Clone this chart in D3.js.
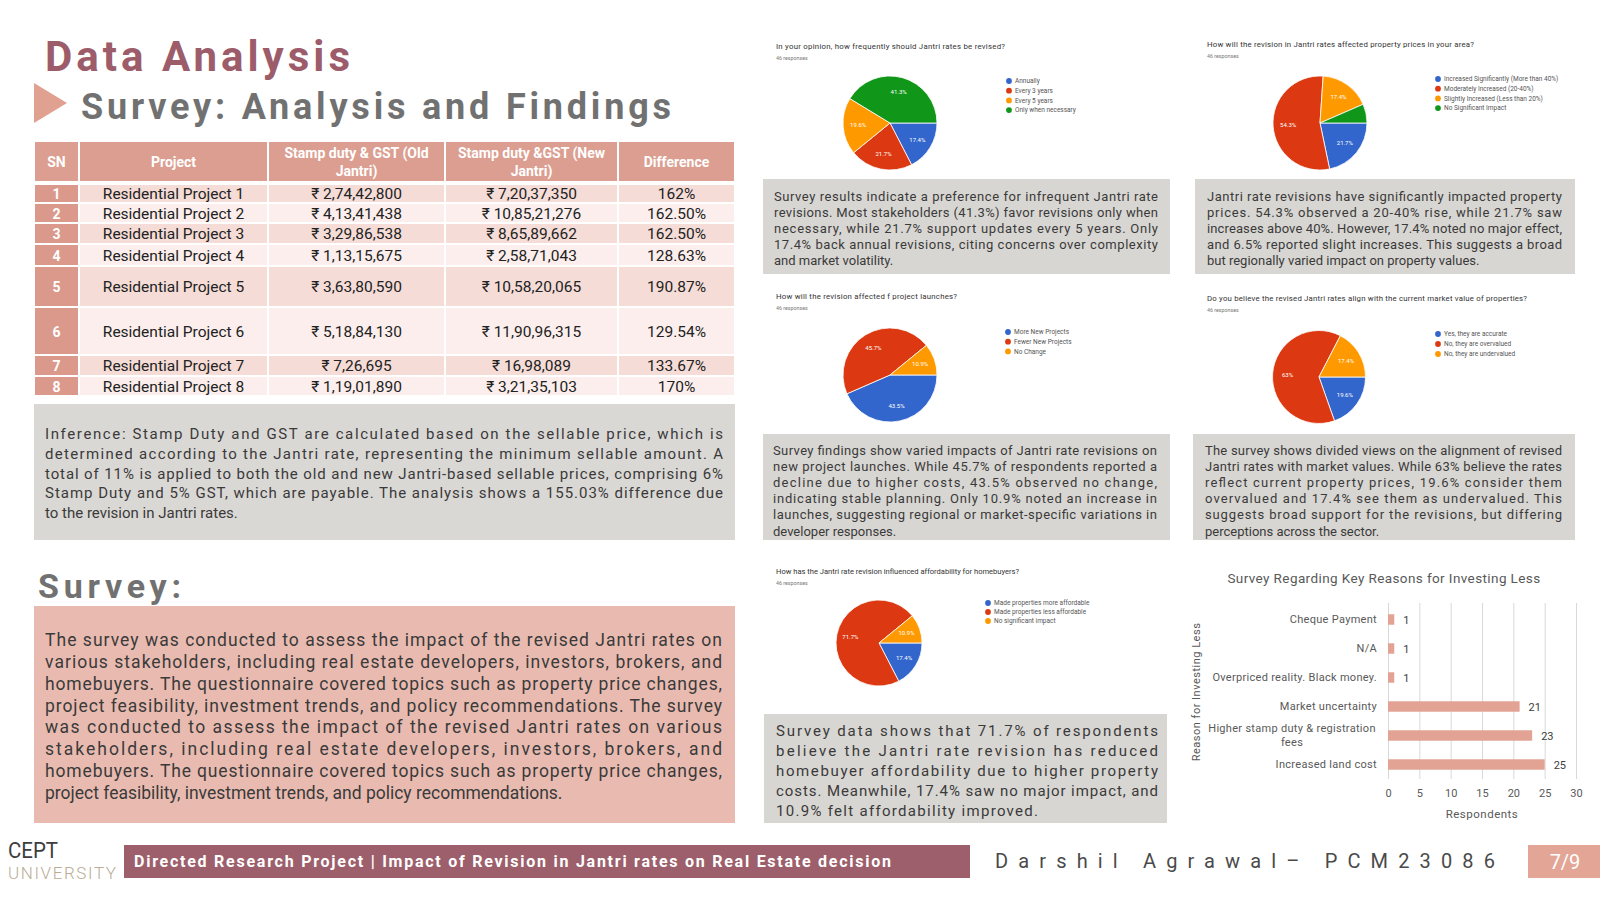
<!DOCTYPE html>
<html><head><meta charset="utf-8">
<script src="https://cdn.jsdelivr.net/npm/d3@7/dist/d3.min.js"></script>
<style>
html,body{margin:0;padding:0;background:#fff;}
svg{display:block;}
text{font-family:Roboto,"Noto Sans",sans-serif;}
</style></head><body>
<svg id="c" width="1600" height="900"></svg>
<script>
// ---------------- DATA ----------------
const tableHeaders = ["SN", "Project", "Stamp duty & GST (Old|Jantri)", "Stamp duty &GST (New|Jantri)", "Difference"];
const snNumbers = [1, 2, 3, 4, 5, 6, 7, 8];
const projects = ["Residential Project 1", "Residential Project 2", "Residential Project 3", "Residential Project 4",
  "Residential Project 5", "Residential Project 6", "Residential Project 7", "Residential Project 8"];
const oldJantri = ["₹ 2,74,42,800", "₹ 4,13,41,438", "₹ 3,29,86,538", "₹ 1,13,15,675", "₹ 3,63,80,590", "₹ 5,18,84,130", "₹ 7,26,695", "₹ 1,19,01,890"];
const newJantri = ["₹ 7,20,37,350", "₹ 10,85,21,276", "₹ 8,65,89,662", "₹ 2,58,71,043", "₹ 10,58,20,065", "₹ 11,90,96,315", "₹ 16,98,089", "₹ 3,21,35,103"];
const differences = ["162%", "162.50%", "162.50%", "128.63%", "190.87%", "129.54%", "133.67%", "170%"];

const inferenceLines = [
  "Inference: Stamp Duty and GST are calculated based on the sellable price, which is",
  "determined according to the Jantri rate, representing the minimum sellable amount. A",
  "total of 11% is applied to both the old and new Jantri-based sellable prices, comprising 6%",
  "Stamp Duty and 5% GST, which are payable. The analysis shows a 155.03% difference due",
  "to the revision in Jantri rates."];
const surveyLines = [
  "The survey was conducted to assess the impact of the revised Jantri rates on",
  "various stakeholders, including real estate developers, investors, brokers, and",
  "homebuyers. The questionnaire covered topics such as property price changes,",
  "project feasibility, investment trends, and policy recommendations. The survey",
  "was conducted to assess the impact of the revised Jantri rates on various",
  "stakeholders, including real estate developers, investors, brokers, and",
  "homebuyers. The questionnaire covered topics such as property price changes,",
  "project feasibility, investment trends, and policy recommendations."];

const freqTitle = "In your opinion, how frequently should Jantri rates be revised?";
const freqLabels = ["Annually", "Every 3 years", "Every 5 years", "Only when necessary"];
const freqValues = [17.4, 21.7, 19.6, 41.3];
const freqText = [
  "Survey results indicate a preference for infrequent Jantri rate",
  "revisions. Most stakeholders (41.3%) favor revisions only when",
  "necessary, while 21.7% support updates every 5 years. Only",
  "17.4% back annual revisions, citing concerns over complexity",
  "and market volatility."];

const priceTitle = "How will the revision in Jantri rates affected property prices in your area?";
const priceLabels = ["Increased Significantly (More than 40%)", "Moderately Increased (20-40%)", "Slightly Increased (Less than 20%)", "No Significant Impact"];
const priceValues = [21.7, 54.3, 17.4, 6.5];
const priceText = [
  "Jantri rate revisions have significantly impacted property",
  "prices. 54.3% observed a 20-40% rise, while 21.7% saw",
  "increases above 40%. However, 17.4% noted no major effect,",
  "and 6.5% reported slight increases. This suggests a broad",
  "but regionally varied impact on property values."];

const launchTitle = "How will the revision affected f project launches?";
const launchLabels = ["More New Projects", "Fewer New Projects", "No Change"];
const launchValues = [43.5, 45.7, 10.9];
const launchText = [
  "Survey findings show varied impacts of Jantri rate revisions on",
  "new project launches. While 45.7% of respondents reported a",
  "decline due to higher costs, 43.5% observed no change,",
  "indicating stable planning. Only 10.9% noted an increase in",
  "launches, suggesting regional or market-specific variations in",
  "developer responses."];

const alignTitle = "Do you believe the revised Jantri rates align with the current market value of properties?";
const alignLabels = ["Yes, they are accurate", "No, they are overvalued", "No, they are undervalued"];
const alignValues = [19.6, 63, 17.4];
const alignText = [
  "The survey shows divided views on the alignment of revised",
  "Jantri rates with market values. While 63% believe the rates",
  "reflect current property prices, 19.6% consider them",
  "overvalued and 17.4% see them as undervalued. This",
  "suggests broad support for the revisions, but differing",
  "perceptions across the sector."];

const affordTitle = "How has the Jantri rate revision influenced affordability for homebuyers?";
const affordLabels = ["Made properties more affordable", "Made properties less affordable", "No significant impact"];
const affordValues = [17.4, 71.7, 10.9];
const affordText = [
  "Survey data shows that 71.7% of respondents",
  "believe the Jantri rate revision has reduced",
  "homebuyer affordability due to higher property",
  "costs. Meanwhile, 17.4% saw no major impact, and",
  "10.9% felt affordability improved."];

const responsesNote = "46 responses";

const barTitle = "Survey Regarding Key Reasons for Investing Less";
const reasonCategories = ["Cheque Payment", "N/A", "Overpriced reality. Black money.", "Market uncertainty", "Higher stamp duty & registration fees", "Increased land cost"];
const reasonCounts = [1, 1, 1, 21, 23, 25];
const respondentTicks = [0, 5, 10, 15, 20, 25, 30];

const footerText = "Directed Research Project | Impact of Revision in Jantri rates on Real Estate decision";
const authorText = "Darshil Agrawal– PCM23086";
const pageText = "7/9";

// ---------------- DRAW ----------------
const svg = d3.select("#c");
const TXT = "#3a3a3a";

function fit(t, w) {
  const n = t.node().getComputedTextLength();
  t.attr("textLength", w).attr("lengthAdjust", n > w ? "spacingAndGlyphs" : "spacing");
  return t;
}
function para(lines, x0, x1, y0, lh, size, lastLs) {
  const g = svg.append("g");
  lines.forEach((ln, i) => {
    const t = g.append("text").attr("x", x0).attr("y", y0 + i * lh)
      .attr("font-size", size).attr("fill", TXT).text(ln);
    if (i < lines.length - 1) fit(t, x1 - x0);
    else if (lastLs) t.attr("letter-spacing", lastLs);
  });
}

// Titles
fit(svg.append("text").attr("x", 45).attr("y", 71).attr("font-size", 42).attr("font-weight", "bold")
  .attr("fill", "#9c5c69").text("Data Analysis"), 305);
svg.append("path").attr("d", "M34,83 L67,103 L34,123 Z").attr("fill", "#e1a191");
fit(svg.append("text").attr("x", 81).attr("y", 119).attr("font-size", 36).attr("font-weight", "bold")
  .attr("fill", "#717171").text("Survey: Analysis and Findings"), 590);

// Table
const colX = [34, 79, 268, 445, 618, 735];
const headY = [142, 181];
const rowY = [184, 203, 223, 244, 266, 307, 355, 376, 396];
const tbl = svg.append("g");
tableHeaders.forEach((h, j) => {
  tbl.append("rect").attr("x", colX[j] + 1).attr("y", headY[0]).attr("width", colX[j + 1] - colX[j] - 2)
    .attr("height", headY[1] - headY[0]).attr("fill", "#dc9e90");
  const parts = h.split("|");
  const cx = (colX[j] + colX[j + 1]) / 2;
  parts.forEach((p, k) => {
    const t = tbl.append("text").attr("text-anchor", "middle").attr("fill", "#fff").attr("font-weight", "bold")
      .attr("font-size", 14).attr("x", cx)
      .attr("y", (headY[0] + headY[1]) / 2 + 5 + (k - (parts.length - 1) / 2) * 18).text(p);
    const w = colX[j + 1] - colX[j] - 14;
    if (t.node().getComputedTextLength() > w) t.attr("textLength", w).attr("lengthAdjust", "spacingAndGlyphs");
  });
});
const rows = snNumbers.map((n, i) => ({ cells: [String(n), projects[i], oldJantri[i], newJantri[i], differences[i]], i }));
const rg = tbl.selectAll("g.row").data(rows).join("g").attr("class", "row");
rg.each(function (d) {
  const g = d3.select(this);
  const y0 = rowY[d.i], y1 = rowY[d.i + 1];
  d.cells.forEach((c, j) => {
    const fill = j === 0 ? "#db998b" : (d.i % 2 === 0 ? "#f5dcd7" : "#fbeeec");
    g.append("rect").attr("x", colX[j] + 1).attr("y", y0 + 1).attr("width", colX[j + 1] - colX[j] - 2)
      .attr("height", y1 - y0 - 2).attr("fill", fill);
    g.append("text").attr("x", (colX[j] + colX[j + 1]) / 2).attr("y", (y0 + y1) / 2 + 5.5)
      .attr("text-anchor", "middle").attr("font-size", j === 0 ? 14 : 15.5)
      .attr("font-weight", j === 0 ? "bold" : "normal")
      .attr("fill", j === 0 ? "#fff" : "#222").text(c);
  });
});

// Inference box
svg.append("rect").attr("x", 34).attr("y", 404).attr("width", 701).attr("height", 136).attr("fill", "#dad8d5");
para(inferenceLines, 45, 723, 439, 19.75, 15);

// Survey heading & box
fit(svg.append("text").attr("x", 38).attr("y", 598).attr("font-size", 34).attr("font-weight", "bold")
  .attr("fill", "#717171").text("Survey:"), 143);
svg.append("rect").attr("x", 34).attr("y", 606).attr("width", 701).attr("height", 217).attr("fill", "#e9bbb0");
para(surveyLines, 45, 722, 646, 21.86, 17.5);

// Pie charts
const pieColors = ["#3366cc", "#dc3912", "#ff9900", "#109618"];
function pieChart(cfg) {
  const g = svg.append("g");
  fit(g.append("text").attr("x", cfg.tx).attr("y", cfg.ty).attr("font-size", 7.8).attr("fill", "#333").text(cfg.title), cfg.tw);
  g.append("text").attr("x", cfg.tx).attr("y", cfg.ty + 11).attr("font-size", 5.3).attr("fill", "#777").text(responsesNote);
  const pie = d3.pie().sort(null).startAngle(Math.PI / 2).endAngle(Math.PI / 2 + 2 * Math.PI);
  const arcs = pie(cfg.values);
  const arc = d3.arc().innerRadius(0).outerRadius(cfg.r);
  const lab = d3.arc().innerRadius(cfg.r * 0.68).outerRadius(cfg.r * 0.68);
  const pg = g.append("g").attr("transform", `translate(${cfg.cx},${cfg.cy})`);
  pg.selectAll("path").data(arcs).join("path").attr("d", arc)
    .attr("fill", (d, i) => pieColors[i]).attr("stroke", "#fff").attr("stroke-width", 0.8);
  pg.selectAll("text").data(arcs.filter(d => d.data >= 8)).join("text")
    .attr("transform", d => `translate(${lab.centroid(d)})`).attr("text-anchor", "middle").attr("dy", "0.35em")
    .attr("font-size", 6).attr("fill", "#fff").text(d => d.data + "%");
  const lg = g.append("g");
  cfg.labels.forEach((l, i) => {
    lg.append("circle").attr("cx", cfg.lx).attr("cy", cfg.ly + i * cfg.ls).attr("r", 2.9).attr("fill", pieColors[i]);
    lg.append("text").attr("x", cfg.lx + 6).attr("y", cfg.ly + i * cfg.ls + 2.2).attr("font-size", 6.5).attr("fill", "#555").text(l);
  });
}
pieChart({ title: freqTitle, labels: freqLabels, values: freqValues, tx: 776, ty: 49, tw: 229, cx: 890, cy: 123, r: 47, lx: 1009, ly: 81, ls: 9.7 });
pieChart({ title: priceTitle, labels: priceLabels, values: priceValues, tx: 1207, ty: 47, tw: 267, cx: 1320, cy: 123, r: 47, lx: 1438, ly: 79, ls: 9.7 });
pieChart({ title: launchTitle, labels: launchLabels, values: launchValues, tx: 776, ty: 299, tw: 181, cx: 890, cy: 375, r: 47, lx: 1008, ly: 332, ls: 9.7 });
pieChart({ title: alignTitle, labels: alignLabels, values: alignValues, tx: 1207, ty: 301, tw: 320, cx: 1319, cy: 377, r: 46.5, lx: 1438, ly: 334, ls: 10 });
pieChart({ title: affordTitle, labels: affordLabels, values: affordValues, tx: 776, ty: 574, tw: 243, cx: 879, cy: 643, r: 43, lx: 988, ly: 603, ls: 9 });

// Text boxes under pies
const BOX = "#d8d6d2";
svg.append("rect").attr("x", 763).attr("y", 179).attr("width", 407).attr("height", 95).attr("fill", BOX);
para(freqText, 774, 1158, 200.5, 16, 13);
svg.append("rect").attr("x", 1195).attr("y", 179).attr("width", 380).attr("height", 95).attr("fill", BOX);
para(priceText, 1207, 1562, 200.5, 16, 13);
svg.append("rect").attr("x", 763).attr("y", 434).attr("width", 407).attr("height", 106).attr("fill", BOX);
para(launchText, 773, 1157, 454.5, 16.2, 13);
svg.append("rect").attr("x", 1193).attr("y", 434).attr("width", 382).attr("height", 106).attr("fill", BOX);
para(alignText, 1205, 1562, 454.5, 16.2, 13);
svg.append("rect").attr("x", 764).attr("y", 714).attr("width", 403).attr("height", 109).attr("fill", BOX);
para(affordText, 776, 1158, 735.5, 20, 15, 1.3);

// Bar chart
const bx = d3.scaleLinear().domain([0, 30]).range([1388, 1576]);
const by = d3.scaleBand().domain(reasonCategories).range([605, 779]).paddingInner(0.64).paddingOuter(0.32);
const bc = svg.append("g");
bc.append("text").attr("x", 1384).attr("y", 583).attr("text-anchor", "middle").attr("font-size", 13.5)
  .attr("fill", "#595959").attr("letter-spacing", 0.4).text(barTitle);
const xa = bc.append("g").attr("transform", "translate(0,779)")
  .call(d3.axisBottom(bx).tickValues(respondentTicks).tickSize(-176).tickPadding(10));
xa.select(".domain").remove();
xa.selectAll(".tick line").attr("stroke", "#d9d9d9");
xa.selectAll(".tick text").attr("font-size", 11).attr("fill", "#595959").style("font-family", "Roboto, sans-serif");
bc.selectAll("rect.bar").data(reasonCategories).join("rect").attr("class", "bar")
  .attr("x", bx(0)).attr("y", d => by(d)).attr("height", by.bandwidth())
  .attr("width", (d, i) => bx(reasonCounts[i]) - bx(0)).attr("fill", "#e2a394");
bc.selectAll("text.val").data(reasonCategories).join("text").attr("class", "val")
  .attr("x", (d, i) => bx(reasonCounts[i]) + 9).attr("y", d => by(d) + by.bandwidth() / 2 + 4)
  .attr("font-size", 11).attr("fill", "#404040").text((d, i) => reasonCounts[i]);
const ya = bc.append("g").attr("transform", "translate(1388,0)")
  .call(d3.axisLeft(by).tickSize(0).tickPadding(11));
ya.select(".domain").remove();
ya.selectAll(".tick text").attr("font-size", 11).attr("fill", "#595959").attr("letter-spacing", 0.3)
  .style("font-family", "Roboto, sans-serif")
  .each(function (d) {
    if (d.length > 33) {
      const t = d3.select(this);
      const cut = d.lastIndexOf(" ", 33);
      t.text(null);
      t.append("tspan").attr("x", -96).attr("dy", "-0.3em").attr("text-anchor", "middle").text(d.slice(0, cut));
      t.append("tspan").attr("x", -96).attr("dy", "1.25em").attr("text-anchor", "middle").text(d.slice(cut + 1));
    }
  });
bc.append("text").attr("x", (bx(0) + bx(30)) / 2).attr("y", 818).attr("text-anchor", "middle").attr("font-size", 11.5)
  .attr("fill", "#595959").attr("letter-spacing", 0.5).text("Respondents");
bc.append("text").attr("transform", "translate(1200,692) rotate(-90)").attr("text-anchor", "middle")
  .attr("font-size", 11).attr("fill", "#595959").attr("letter-spacing", 0.5).text("Reason for Investing Less");

// Footer
fit(svg.append("text").attr("x", 8).attr("y", 858).attr("font-size", 22).attr("fill", "#3d3d3d").text("CEPT"), 50);
fit(svg.append("text").attr("x", 8).attr("y", 879).attr("font-size", 17).attr("font-weight", 300)
  .attr("fill", "#b9ad96").text("UNIVERSITY"), 108);
svg.append("rect").attr("x", 124).attr("y", 845).attr("width", 846).attr("height", 33).attr("fill", "#9d5f6b");
fit(svg.append("text").attr("x", 134).attr("y", 867).attr("font-size", 16).attr("font-weight", "bold")
  .attr("fill", "#fff").text(footerText), 757);
fit(svg.append("text").attr("x", 995).attr("y", 868).attr("font-size", 20).attr("fill", "#4a4a4a").text(authorText), 500);
svg.append("rect").attr("x", 1528).attr("y", 845).attr("width", 72).attr("height", 33).attr("fill", "#e3a596");
svg.append("text").attr("x", 1565).attr("y", 869).attr("text-anchor", "middle").attr("font-size", 20)
  .attr("fill", "#fff").text(pageText);
</script>
</body></html>
